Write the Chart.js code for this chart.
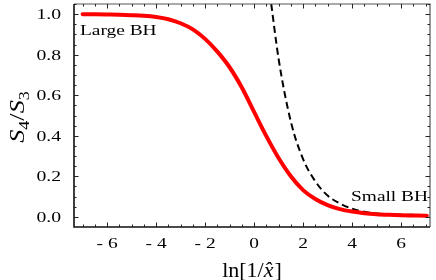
<!DOCTYPE html>
<html><head><meta charset="utf-8">
<script src="https://cdn.jsdelivr.net/npm/chart.js@4/dist/chart.umd.min.js"></script>
<style>html,body{margin:0;padding:0;background:#fff}</style>
</head><body>
<canvas id="c" width="436" height="280" style="display:block;width:436px;height:280px"></canvas>
<script>
// ---- data ----
const redX = [-7,-6.5,-6,-5.5,-5,-4.5,-4,-3.5,-3,-2.5,-2,-1.5,-1,-0.5,0,0.5,1,1.5,2,2.5,3,3.5,4,4.5,5,5.5,6,6.5,7,7.05];
const redY = [1.0,0.999,0.998,0.997,0.995,0.992,0.986,0.975,0.955,0.925,0.878,0.815,0.738,0.638,0.518,0.398,0.290,0.200,0.132,0.088,0.058,0.038,0.026,0.018,0.013,0.010,0.008,0.007,0.006,0.006];
const dashX = [0.7,1.0,1.5,2.0,2.5,3.0,3.5,4.0,4.5,5.0,5.5,6.0,6.5,7.0,7.05];
const dashY = [1.05,0.78,0.47,0.285,0.175,0.105,0.066,0.040,0.025,0.017,0.013,0.011,0.010,0.009,0.009];
const xTickValues = [-6,-4,-2,0,2,4,6];
const xTickLabels = ['- 6','- 4','- 2','0','2','4','6'];
const yTickValues = [0,0.2,0.4,0.6,0.8,1.0];
const yTickLabels = ['0.0','0.2','0.4','0.6','0.8','1.0'];
const noteLarge = 'Large BH';
const noteSmall = 'Small BH';

const SERIF = '"Liberation Serif","Times New Roman",serif';

function stext(ctx, str, x, y, font, align, sx) {
  ctx.save();
  ctx.font = font;
  ctx.translate(x, y);
  ctx.scale(sx, 1);
  ctx.textAlign = align;
  ctx.textBaseline = 'alphabetic';
  ctx.fillText(str, 0, 0);
  ctx.restore();
}

const decor = {
  id: 'decor',
  afterDraw(chart) {
    const ctx = chart.ctx;
    const xs = chart.scales.x, ys = chart.scales.y;
    const a = chart.chartArea;
    ctx.save();
    // top & right frame (lighter)
    ctx.strokeStyle = '#555';
    ctx.lineWidth = 1.2;
    ctx.beginPath();
    ctx.moveTo(a.left, a.top); ctx.lineTo(a.right, a.top); ctx.lineTo(a.right, a.bottom);
    ctx.stroke();
    // left & bottom frame (darker)
    ctx.strokeStyle = '#111';
    ctx.lineWidth = 1.6;
    ctx.beginPath();
    ctx.moveTo(a.left, a.top); ctx.lineTo(a.left, a.bottom); ctx.lineTo(a.right, a.bottom);
    ctx.stroke();

    ctx.strokeStyle = '#222';
    ctx.lineWidth = 1;
    ctx.beginPath();
    for (let k = -14; k <= 14; k++) {
      const v = k * 0.5;
      const px = Math.round(xs.getPixelForValue(v)) + 0.5;
      if (px < a.left || px > a.right) continue;
      const len = (k % 4 === 0) ? 4.5 : 2.5;
      ctx.moveTo(px, a.bottom); ctx.lineTo(px, a.bottom - len);
      ctx.moveTo(px, a.top); ctx.lineTo(px, a.top + len);
    }
    for (let k = -1; k <= 21; k++) {
      const v = k * 0.05;
      const py = Math.round(ys.getPixelForValue(v)) + 0.5;
      if (py < a.top || py > a.bottom) continue;
      const len = (k % 4 === 0) ? 4.5 : 2.5;
      ctx.moveTo(a.left, py); ctx.lineTo(a.left + len, py);
      ctx.moveTo(a.right, py); ctx.lineTo(a.right - len, py);
    }
    ctx.stroke();

    ctx.fillStyle = '#000';
    const tf = '15.5px ' + SERIF;
    xTickValues.forEach((v, i) => {
      stext(ctx, xTickLabels[i], xs.getPixelForValue(v), 248, tf, 'center', 1.25);
    });
    yTickValues.forEach((v, i) => {
      stext(ctx, yTickLabels[i], 61, ys.getPixelForValue(v) + 5, tf, 'right', 1.27);
    });

    // annotations
    stext(ctx, noteLarge, 80, 34.5, '15.5px ' + SERIF, 'left', 1.25);
    stext(ctx, noteSmall, 428, 201, '15.5px ' + SERIF, 'right', 1.25);

    // x title: ln[1/x̂]
    {
      const f1 = '22px ' + SERIF, f2 = 'italic 22px ' + SERIF;
      const p1 = 'ln[1/', p2 = 'x\u0302', p3 = ']';
      ctx.font = f1; const w1 = ctx.measureText(p1).width, w3 = ctx.measureText(p3).width;
      ctx.font = f2; const w2 = ctx.measureText(p2).width + 1;
      const sx = 1.0;
      let x0 = 252 - (w1 + w2 + w3) * sx / 2;
      const by = 276.5;
      ctx.save(); ctx.translate(x0, by); ctx.scale(sx, 1);
      ctx.textAlign = 'left'; ctx.textBaseline = 'alphabetic';
      ctx.font = f1; ctx.fillText(p1, 0, 0);
      ctx.font = f2; ctx.fillText(p2, w1, 0);
      ctx.font = f1; ctx.fillText(p3, w1 + w2, 0);
      ctx.restore();
    }
    // y title: S4/S3 (rotated)
    {
      const fi = 'italic 22px ' + SERIF, fs = '15px ' + SERIF, fn = '22px ' + SERIF;
      const parts = [['S', fi, 0], ['4', fs, 5], ['/', fn, 0], ['S', fi, 0], ['3', fs, 5]];
      let widths = parts.map(p => { ctx.font = p[1]; return ctx.measureText(p[0]).width; });
      const sx = 1.2;
      const total = widths.reduce((s, w) => s + w, 0) * sx;
      ctx.save();
      ctx.translate(24, 117);
      ctx.rotate(-Math.PI / 2);
      ctx.scale(sx, 1);
      ctx.textAlign = 'left'; ctx.textBaseline = 'alphabetic';
      let cx = -total / sx / 2;
      parts.forEach((p, i) => { ctx.font = p[1]; ctx.fillText(p[0], cx, p[2]); cx += widths[i]; });
      ctx.restore();
    }
    ctx.restore();
  }
};

new Chart(document.getElementById('c'), {
  type: 'line',
  data: {
    datasets: [
      {
        data: redX.map((x, i) => ({ x: x, y: redY[i] })),
        borderColor: '#ff0000', borderWidth: 4, pointRadius: 0,
        cubicInterpolationMode: 'monotone', fill: false, borderCapStyle: 'round', borderJoinStyle: 'round'
      },
      {
        data: dashX.map((x, i) => ({ x: x, y: dashY[i] })),
        borderColor: '#000000', borderWidth: 2, borderDash: [7, 4], pointRadius: 0,
        cubicInterpolationMode: 'monotone', fill: false
      }
    ]
  },
  options: {
    responsive: false, animation: false, devicePixelRatio: 1,
    layout: { padding: { top: 4, right: 6, left: 0, bottom: 0 } },
    plugins: { legend: { display: false }, tooltip: { enabled: false } },
    scales: {
      x: { type: 'linear', min: -7.35, max: 7.18,
           ticks: { display: false }, grid: { display: false }, border: { display: false },
           afterFit: s => { s.height = 53; } },
      y: { type: 'linear', min: -0.05, max: 1.05,
           ticks: { display: false }, grid: { display: false }, border: { display: false },
           afterFit: s => { s.width = 74; } }
    }
  },
  plugins: [decor]
});
</script>
</body></html>
